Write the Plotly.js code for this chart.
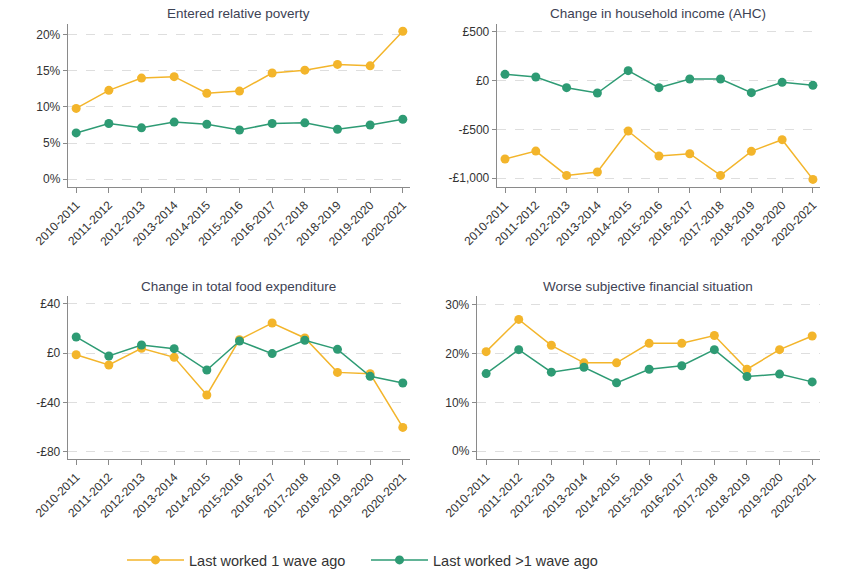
<!DOCTYPE html>
<html>
<head>
<meta charset="utf-8">
<script src="https://cdn.plot.ly/plotly-3.0.1.min.js"></script>
<style>
  html, body { margin: 0; padding: 0; background: #fff; }
  #myDiv { width: 848px; height: 577px; }
</style>
</head>
<body>
<div id="myDiv"></div>
<script>
const years = ['2010-2011','2011-2012','2012-2013','2013-2014','2014-2015','2015-2016',
  '2016-2017','2017-2018','2018-2019','2019-2020','2020-2021']

// entered relative poverty (%)
const povertyOne = [9.8, 12.3, 14.0, 14.2, 11.9, 12.2, 14.7, 15.1, 15.9, 15.7, 20.5]
const povertyMore = [6.4, 7.7, 7.1, 7.9, 7.6, 6.8, 7.7, 7.8, 6.9, 7.5, 8.3]

// change in household income AHC (£)
const incomeOne = [-805, -723, -973, -938, -517, -774, -750, -973, -726, -606, -1014]
const incomeMore = [65, 38, -72, -127, 103, -72, 17, 17, -123, -17, -48]

// change in total food expenditure (£)
const foodOne = [-1.4, -9.7, 3.8, -3.5, -34, 10.8, 24.3, 12.2, -15.7, -16.8, -60.3]
const foodMore = [13, -2.4, 6.5, 3.5, -13.8, 9.7, -0.5, 10.3, 3.0, -18.9, -24.3]

// worse subjective financial situation (%)
const worseOne = [20.4, 27.0, 21.7, 18.1, 18.1, 22.1, 22.1, 23.7, 16.8, 20.8, 23.6]
const worseMore = [15.9, 20.8, 16.2, 17.2, 14.0, 16.8, 17.5, 20.8, 15.3, 15.8, 14.2]

const titles = ['Entered relative poverty','Change in household income (AHC)',
  'Change in total food expenditure','Worse subjective financial situation']

const pctVals = [0, 5, 10, 15, 20]
const pctText = ['0%','5%','10%','15%','20%']
const incVals = [-1000, -500, 0, 500]
const incText = ['-£1,000','-£500','£0','£500']
const foodVals = [-80, -40, 0, 40]
const foodText = ['-£80','-£40','£0','£40']
const worseVals = [0, 10, 20, 30]
const worseText = ['0%','10%','20%','30%']

const yellow = '#F3B52B'
const green = '#2E9B74'
const W = 848, H = 577

function series(x, y, name, color, ax, show){
  return {
    x: x, y: y, name: name, type: 'scatter', mode: 'lines+markers',
    xaxis: ax[0], yaxis: ax[1], showlegend: show,
    line: {color: color, width: 1.5},
    marker: {color: color, size: 9},
    hoverinfo: 'none'
  }
}

const data = [
  series(years, povertyOne, 'Last worked 1 wave ago', yellow, ['x','y'], true),
  series(years, povertyMore, 'Last worked >1 wave ago', green, ['x','y'], true),
  series(years, incomeOne, 'one', yellow, ['x2','y2'], false),
  series(years, incomeMore, 'more', green, ['x2','y2'], false),
  series(years, foodOne, 'one', yellow, ['x3','y3'], false),
  series(years, foodMore, 'more', green, ['x3','y3'], false),
  series(years, worseOne, 'one', yellow, ['x4','y4'], false),
  series(years, worseMore, 'more', green, ['x4','y4'], false),
]

function xax(l, r, anchor, range){
  return {
    domain: [l/W, r/W], anchor: anchor, type: 'category', range: range,
    showline: true, linecolor: '#8a8a8a', linewidth: 1.3,
    ticks: 'outside', ticklen: 5, tickcolor: '#8a8a8a',
    tickangle: -45, showgrid: false, zeroline: false,
    tickfont: {size: 12, color: '#333'}
  }
}
function yax(t, b, anchor, range, vals, text){
  return {
    domain: [1 - b/H, 1 - t/H], anchor: anchor, range: range,
    tickvals: vals, ticktext: text,
    showline: true, linecolor: '#8a8a8a', linewidth: 1.3,
    ticks: 'outside', ticklen: 4, tickcolor: '#8a8a8a',
    showgrid: true, gridcolor: '#dedede', griddash: 'dash', gridwidth: 1,
    zeroline: false, tickfont: {size: 12, color: '#333'}
  }
}

const centers = [[239, 13], [658, 13], [239, 286], [648, 286]]
const layout = {
  width: W, height: H,
  margin: {l: 0, r: 0, t: 0, b: 0, pad: 0},
  paper_bgcolor: '#fff', plot_bgcolor: '#fff',
  font: {family: 'Liberation Sans, Arial, sans-serif', color: '#333'},
  xaxis: xax(68, 410, 'y', [-0.25, 10.22]),
  yaxis: yax(24, 187, 'x', [-1.1, 21.5], pctVals, pctText),
  xaxis2: xax(497, 820, 'y2', [-0.26, 10.23]),
  yaxis2: yax(24, 187, 'x2', [-1092, 582], incVals, incText),
  xaxis3: xax(68, 410, 'y3', [-0.25, 10.22]),
  yaxis3: yax(296, 459, 'x3', [-85.9, 46.2], foodVals, foodText),
  xaxis4: xax(477, 820, 'y4', [-0.28, 10.24]),
  yaxis4: yax(296, 459, 'x4', [-1.6, 31.8], worseVals, worseText),
  annotations: titles.map((t, i) => ({
    text: t, xref: 'paper', yref: 'paper', showarrow: false,
    x: centers[i][0]/W, y: 1 - centers[i][1]/H, xanchor: 'center', yanchor: 'middle',
    font: {size: 13.5, color: '#3d4254'}
  })),
  showlegend: true,
  legend: {
    orientation: 'h', x: 122/W, xanchor: 'left', y: 1 - 560/H, yanchor: 'middle',
    font: {size: 14.5, color: '#333'}, itemwidth: 57, entrywidth: 172,
    bgcolor: 'rgba(0,0,0,0)'
  }
}

Plotly.newPlot('myDiv', data, layout, {displayModeBar: false, staticPlot: true})
</script>
</body>
</html>
